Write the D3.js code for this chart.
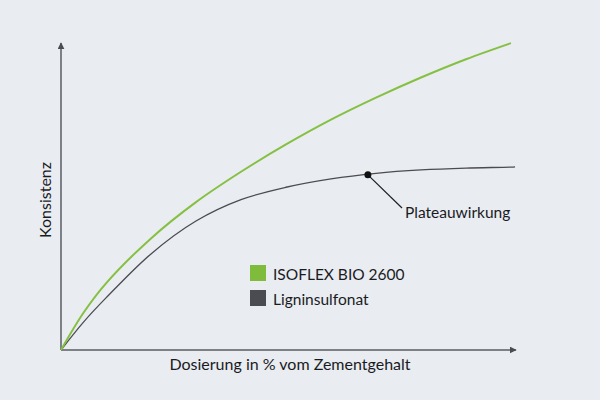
<!DOCTYPE html>
<html>
<head>
<meta charset="utf-8">
<script src="https://cdn.jsdelivr.net/npm/d3@7"></script>
<style>
  body { margin: 0; background: #e9ecf1; }
  svg { display: block; }
</style>
</head>
<body>
<svg id="chart"></svg>
<script>
// Dosierung (arbitrary units) and Konsistenz (0-100)
var dosage = [0, 0.5, 1, 2, 3, 4, 5, 6, 7, 8, 9, 10];
var isoflex = [0, 12, 21.5, 36, 47.7, 57.5, 66.3, 74.3, 81.4, 87.9, 93.8, 99.0];
var lignin = [0, 9, 16.8, 31, 41.6, 48.5, 52.5, 55.2, 57, 58.1, 58.7, 59.0];
var lignin_end = [10.09, 59.1];
var plateau = [6.82, 56.5];
var seriesNames = ['ISOFLEX BIO 2600', 'Ligninsulfonat'];
var seriesColors = ['#80bc3c', '#4b4c51'];

var w = 600, h = 400;
var x0 = 61, x1 = 511, y0 = 350, y1 = 40;
var font = 'Lato, "Open Sans", sans-serif';

var svg = d3.select('#chart').attr('width', w).attr('height', h);

svg.append('rect').attr('width', w).attr('height', h).attr('fill', '#e9ecf1');

var xs = d3.scaleLinear().domain([0, 10]).range([x0, x1]);
var ys = d3.scaleLinear().domain([0, 100]).range([y0, y1]);

// arrowheads
var defs = svg.append('defs');
defs.append('marker')
    .attr('id', 'arrow')
    .attr('viewBox', '0 0 10 10')
    .attr('refX', 9).attr('refY', 5)
    .attr('markerWidth', 7).attr('markerHeight', 7)
    .attr('markerUnits', 'userSpaceOnUse')
    .attr('orient', 'auto')
  .append('path')
    .attr('d', 'M0,0 L10,5 L0,10 Z')
    .attr('fill', '#4b4c51');

// axes (plain lines with arrows, no ticks)
svg.append('line')
    .attr('x1', xs(0)).attr('y1', ys(0))
    .attr('x2', xs(0)).attr('y2', 43)
    .attr('stroke', '#5a5d63').attr('stroke-width', 1.5)
    .attr('marker-end', 'url(#arrow)');

svg.append('line')
    .attr('x1', xs(0)).attr('y1', ys(0))
    .attr('x2', 516).attr('y2', ys(0))
    .attr('stroke', '#5a5d63').attr('stroke-width', 1.5)
    .attr('marker-end', 'url(#arrow)');

// curves
var line = d3.line()
    .x(function(d) { return xs(d[0]); })
    .y(function(d) { return ys(d[1]); })
    .curve(d3.curveCatmullRom.alpha(0.5));

var ligData = dosage.map(function(d, i) { return [d, lignin[i]]; });
ligData.push(lignin_end);
var isoData = dosage.map(function(d, i) { return [d, isoflex[i]]; });

svg.append('path')
    .datum(ligData)
    .attr('d', line)
    .attr('fill', 'none')
    .attr('stroke', seriesColors[1])
    .attr('stroke-width', 1.3);

svg.append('path')
    .datum(isoData)
    .attr('d', line)
    .attr('fill', 'none')
    .attr('stroke', '#86c043')
    .attr('stroke-width', 2);

// plateau annotation
svg.append('line')
    .attr('x1', xs(plateau[0])).attr('y1', ys(plateau[1]))
    .attr('x2', 402).attr('y2', 208)
    .attr('stroke', '#1e1f22').attr('stroke-width', 1.2);

svg.append('circle')
    .attr('cx', xs(plateau[0])).attr('cy', ys(plateau[1]))
    .attr('r', 3.5)
    .attr('fill', '#111');

svg.append('text')
    .attr('x', 405).attr('y', 218)
    .style('font', '15.5px ' + font)
    .attr('fill', '#1a1b1e')
    .text('Plateauwirkung');

// legend
var lg = svg.append('g').attr('transform', 'translate(250,265)');
seriesNames.forEach(function(name, i) {
    lg.append('rect')
        .attr('x', 0).attr('y', i * 25)
        .attr('width', 16).attr('height', 16)
        .attr('fill', seriesColors[i]);
    lg.append('text')
        .attr('x', 23).attr('y', i * 25 + 15)
        .style('font', '15.5px ' + font)
        .attr('fill', '#1a1b1e')
        .text(name);
});

// axis labels
svg.append('text')
    .attr('x', 290).attr('y', 370)
    .attr('text-anchor', 'middle')
    .style('font', '16px ' + font)
    .attr('fill', '#1a1b1e')
    .text('Dosierung in % vom Zementgehalt');

svg.append('text')
    .attr('transform', 'translate(51,200) rotate(-90)')
    .attr('text-anchor', 'middle')
    .style('font', '16px ' + font)
    .attr('fill', '#1a1b1e')
    .text('Konsistenz');
</script>
</body>
</html>
